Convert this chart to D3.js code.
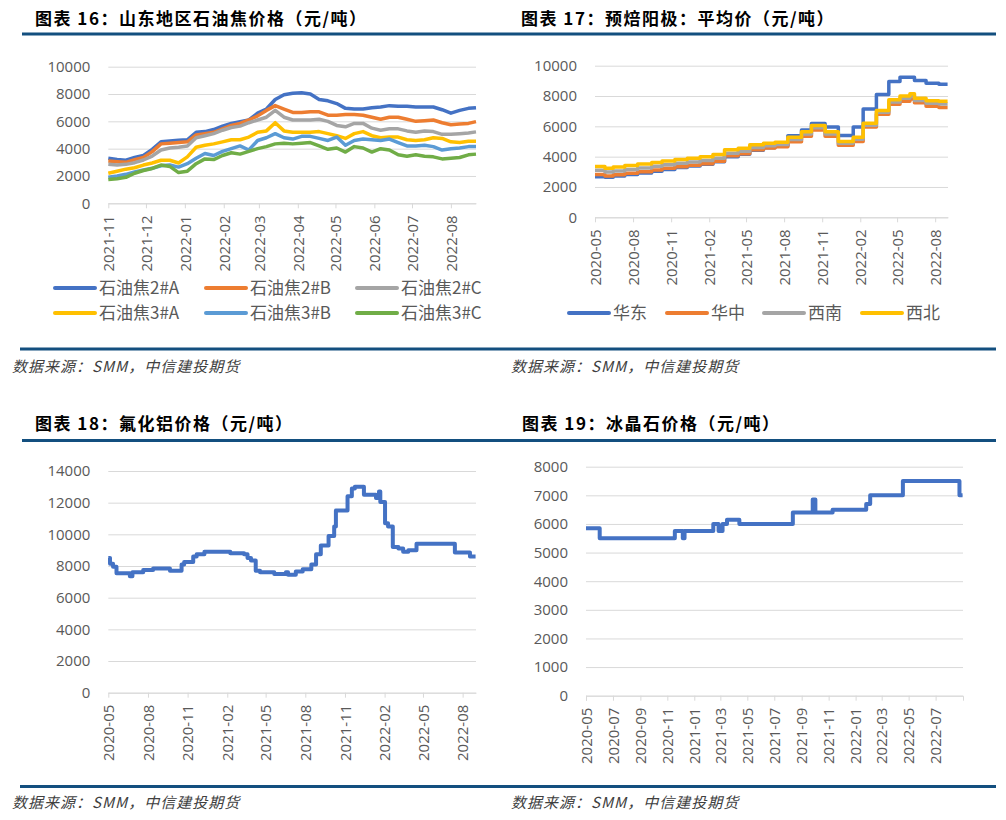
<!DOCTYPE html>
<html>
<head>
<meta charset="utf-8">
<script src="https://cdn.jsdelivr.net/npm/d3@7"></script>
<style>
body { margin: 0; background: #fff; }
.title { font-family: "Noto Sans CJK SC"; font-weight: 700; font-size: 17px; fill: #000; letter-spacing: 1.5px; }
.source { font-family: "Noto Sans CJK SC"; font-style: italic; font-size: 15px; fill: #404040; letter-spacing: 1px; }
.axis text { font-family: "Open Sans", sans-serif; font-size: 15px; fill: #595959; }
.legend text { font-family: "Noto Sans CJK SC"; font-size: 17px; fill: #595959; }
</style>
</head>
<body>
<div id="chart"></div>
<script>
// ---- 图表16 山东地区石油焦价格 ----
const cokeDates = ["2021-11-01","2021-11-08","2021-11-15","2021-11-22","2021-11-29","2021-12-06","2021-12-13","2021-12-20","2021-12-27",
  "2022-01-03","2022-01-10","2022-01-17","2022-01-24","2022-01-31","2022-02-07","2022-02-14","2022-02-21","2022-02-28",
  "2022-03-07","2022-03-14","2022-03-21","2022-03-28","2022-04-04","2022-04-11","2022-04-18","2022-04-25",
  "2022-05-02","2022-05-09","2022-05-16","2022-05-23","2022-05-30","2022-06-06","2022-06-13","2022-06-20","2022-06-27",
  "2022-07-04","2022-07-11","2022-07-18","2022-07-25","2022-08-01","2022-08-08","2022-08-15","2022-08-21"]
const coke2A = [3300,3200,3150,3350,3500,3950,4500,4560,4610,4650,5200,5250,5400,5650,5850,5970,6100,6600,6900,7600,7950,8050,
  8100,8000,7600,7500,7300,6950,6900,6900,7000,7050,7150,7100,7100,7050,7050,7050,6850,6600,6800,6950,7000]
const coke2B = [3100,3050,3000,3200,3350,3780,4350,4400,4450,4500,5000,5100,5200,5450,5700,5850,6100,6400,6800,7150,6900,6650,
  6650,6700,6700,6450,6450,6500,6500,6450,6300,6150,6300,6300,6150,6000,6050,6100,5900,5750,5800,5850,5980]
const coke2C = [2850,2800,2850,2975,3170,3460,3900,4050,4100,4190,4800,4950,5100,5350,5550,5650,5900,6100,6300,6800,6300,6100,
  6100,6100,6150,6000,5700,5600,5850,5850,5500,5350,5450,5450,5300,5200,5300,5250,5050,5050,5100,5150,5230]
const coke3A = [2200,2350,2500,2600,2800,2950,3150,3150,2950,3400,4100,4250,4350,4500,4650,4650,4850,5200,5300,5900,5300,5200,
  5200,5200,5250,5100,4950,4750,5100,5250,4950,4800,4850,4850,4650,4600,4650,4800,4750,4500,4450,4550,4550]
const coke3B = [1900,2000,2120,2290,2440,2560,2750,2800,2650,2900,3300,3650,3500,3800,4000,4200,3900,4600,4800,5100,4800,4700,
  4900,4900,4750,4600,4850,4250,4600,4700,4650,4600,4700,4450,4200,4200,4250,4150,3900,4000,4050,4150,4150]
const coke3C = [1750,1800,1900,2200,2400,2550,2800,2700,2250,2350,2900,3250,3200,3500,3700,3600,3800,4000,4150,4350,4400,4350,
  4400,4450,4200,3950,4050,3750,4150,4050,3750,4000,3900,3550,3450,3550,3450,3400,3250,3300,3350,3550,3600]
const cokeNames = ["石油焦2#A","石油焦2#B","石油焦2#C","石油焦3#A","石油焦3#B","石油焦3#C"]
const cokeXTicks = ["2021-11","2021-12","2022-01","2022-02","2022-03","2022-04","2022-05","2022-06","2022-07","2022-08"]
const cokeYTicks = [0,2000,4000,6000,8000,10000]

// ---- 图表17 预焙阳极 平均价 ----
const anodeDates = ["2020-05-01","2020-05-25","2020-06-14","2020-07-12","2020-08-12","2020-09-15","2020-10-10","2020-11-10",
  "2020-12-10","2021-01-10","2021-02-10","2021-03-10","2021-04-12","2021-05-10","2021-06-12","2021-07-10","2021-08-10",
  "2021-09-12","2021-10-06","2021-11-08","2021-12-10","2022-01-15","2022-02-08","2022-03-12","2022-04-11","2022-05-08",
  "2022-06-01","2022-06-12","2022-07-10","2022-08-10","2022-08-31"]
const anodeEast = [2680,2650,2720,2820,2920,3040,3160,3280,3380,3500,3660,4000,4160,4430,4580,4720,5380,5760,6180,5950,5400,
  5950,7150,8100,8950,9230,9230,9020,8840,8770,8770]
const anodeCentral = [2830,2730,2800,2900,3000,3120,3230,3340,3440,3540,3700,4060,4200,4450,4570,4650,4980,5350,5760,5350,4750,
  5000,5950,6800,7450,7650,7800,7550,7330,7250,7250]
const anodeSouthwest = [3100,2980,3060,3160,3260,3360,3460,3560,3640,3750,3900,4220,4360,4600,4720,4800,5130,5500,5900,5500,4880,
  5150,6080,6930,7600,7850,8000,7700,7520,7480,7480]
const anodeNorthwest = [3350,3230,3320,3420,3520,3620,3720,3820,3900,4000,4150,4450,4560,4780,4880,4950,5280,5650,6050,5650,5000,
  5280,6200,7050,7750,8000,8150,7850,7680,7650,7650]
const anodeNames = ["华东","华中","西南","西北"]
const anodeXTicks = ["2020-05","2020-08","2020-11","2021-02","2021-05","2021-08","2021-11","2022-02","2022-05","2022-08"]
const anodeYTicks = [0,2000,4000,6000,8000,10000]

// ---- 图表18 氟化铝价格 ----
const alfDates = ["2020-05-01","2020-05-05","2020-05-12","2020-05-20","2020-06-20","2020-06-26","2020-07-21","2020-08-13",
  "2020-09-21","2020-10-18","2020-10-24","2020-11-14","2020-11-22","2020-12-10","2021-02-08","2021-03-12","2021-03-20",
  "2021-03-28","2021-04-08","2021-04-18","2021-05-21","2021-06-17","2021-06-22","2021-07-10","2021-07-26","2021-08-15",
  "2021-08-26","2021-09-06","2021-09-24","2021-10-07","2021-10-11","2021-11-07","2021-11-17","2021-11-24","2021-12-15",
  "2022-01-12","2022-01-19","2022-01-22","2022-02-02","2022-02-09","2022-02-20","2022-03-05","2022-03-16","2022-03-28",
  "2022-04-16","2022-07-14","2022-08-18","2022-08-31"]
const alfPrice = [8500,8150,7950,7550,7350,7600,7750,7850,7700,8100,8250,8600,8750,8900,8800,8750,8500,8350,7700,7600,7500,
  7600,7450,7650,7800,8100,8750,9300,9900,10500,11500,12400,12900,13000,12500,12300,12700,12050,10700,10500,9200,9100,
  8900,9000,9400,8850,8600,8600]
const alfXTicks = ["2020-05","2020-08","2020-11","2021-02","2021-05","2021-08","2021-11","2022-02","2022-05","2022-08"]
const alfYTicks = [0,2000,4000,6000,8000,10000,12000,14000]

// ---- 图表19 冰晶石价格 ----
const cryoDates = ["2020-05-01","2020-06-01","2020-11-18","2020-12-06","2020-12-10","2021-02-13","2021-02-25","2021-03-06",
  "2021-03-16","2021-04-13","2021-08-12","2021-09-26","2021-10-02","2021-11-10","2022-01-25","2022-02-03","2022-04-18",
  "2022-08-24","2022-08-31"]
const cryoPrice = [5850,5500,5750,5500,5750,6000,5750,6000,6150,6000,6400,6850,6400,6500,6700,7000,7500,7000,7000]
const cryoXTicks = ["2020-05","2020-07","2020-09","2020-11","2021-01","2021-03","2021-05","2021-07","2021-09","2021-11",
  "2022-01","2022-03","2022-05","2022-07"]
const cryoYTicks = [0,1000,2000,3000,4000,5000,6000,7000,8000]

const colors6 = ["#4472C4","#ED7D31","#A5A5A5","#FFC000","#5B9BD5","#70AD47"]
const colors4 = ["#4472C4","#ED7D31","#A5A5A5","#FFC000"]

const parseDate = d3.timeParse("%Y-%m-%d")
const parseMonth = d3.timeParse("%Y-%m")
const fmtMonth = d3.timeFormat("%Y-%m")

const width = 1006
const height = 820

const svg = d3.select("#chart")
    .append("svg")
    .attr("width", width)
    .attr("height", height)

// titles, rules and sources
const titles = [
  {text: "图表 16：山东地区石油焦价格（元/吨）", x: 35, y: 25},
  {text: "图表 17：预焙阳极：平均价（元/吨）", x: 521, y: 25},
  {text: "图表 18：氟化铝价格（元/吨）", x: 35, y: 430},
  {text: "图表 19：冰晶石价格（元/吨）", x: 522, y: 430}
]
titles.forEach(t => svg.append("text").attr("class", "title").attr("x", t.x).attr("y", t.y).text(t.text))

;[[22, 34], [20, 349], [22, 440.5], [20, 786.5]].forEach(r => {
  svg.append("line").attr("x1", r[0]).attr("x2", 996).attr("y1", r[1]).attr("y2", r[1])
     .attr("stroke", "#134f7f").attr("stroke-width", 3)
})

;[[12, 372], [511, 372], [12, 808], [511, 808]].forEach(s => {
  svg.append("text").attr("class", "source").attr("x", s[0]).attr("y", s[1]).text("数据来源：SMM，中信建投期货")
})

function drawPanel(p) {
  const dates = p.dates.map(parseDate)
  const x = d3.scaleTime().domain(p.xDomain.map(parseDate)).range([p.left, p.right])
  const y = d3.scaleLinear().domain([0, p.yMax]).range([p.bottom, p.top])

  const yAxisGroup = svg.append("g")
      .attr("class", "axis")
      .attr("transform", `translate(${p.left}, 0)`)
  yAxisGroup.call(d3.axisLeft(y).tickValues(p.yTicks).tickSize(-(p.right - p.left)).tickPadding(18).tickFormat(d3.format("d")))
  yAxisGroup.select(".domain").remove()
  yAxisGroup.selectAll(".tick line").attr("stroke", "#d9d9d9")

  const xAxisGroup = svg.append("g")
      .attr("class", "axis")
      .attr("transform", `translate(0, ${p.bottom})`)
  xAxisGroup.call(d3.axisBottom(x).tickValues(p.xTicks.map(parseMonth)).tickSize(5).tickSizeOuter(p.outer).tickFormat(fmtMonth))
  xAxisGroup.select(".domain").attr("stroke", "#d9d9d9")
  xAxisGroup.selectAll(".tick line").attr("stroke", "#d9d9d9")
  xAxisGroup.selectAll("text")
      .attr("transform", "rotate(-90)")
      .attr("text-anchor", "end")
      .attr("x", -12)
      .attr("y", 0)
      .attr("dy", "0.35em")

  const line = d3.line()
      .curve(p.curve)
      .x((d, i) => x(dates[i]))
      .y(d => y(d))

  p.series.forEach((s, k) => {
    svg.append("path")
        .datum(s)
        .attr("fill", "none")
        .attr("stroke", p.colors[k])
        .attr("stroke-width", p.lineWidth)
        .attr("stroke-linejoin", "round")
        .attr("d", line)
  })
}

function drawLegend(names, colors, cols, rows) {
  const g = svg.append("g").attr("class", "legend")
  names.forEach((n, i) => {
    const lx = cols[i % cols.length]
    const ly = rows[Math.floor(i / cols.length)]
    g.append("line").attr("x1", lx).attr("x2", lx + 40).attr("y1", ly).attr("y2", ly)
        .attr("stroke", colors[i]).attr("stroke-width", 4).attr("stroke-linecap", "round")
    g.append("text").attr("x", lx + 44).attr("y", ly).attr("dy", "0.35em").text(n)
  })
}

drawPanel({
  dates: cokeDates, series: [coke2A, coke2B, coke2C, coke3A, coke3B, coke3C], colors: colors6,
  xDomain: ["2021-11-01", "2022-08-21"], xTicks: cokeXTicks, yTicks: cokeYTicks, yMax: 10000,
  left: 108.3, right: 476, top: 66.7, bottom: 203.3, curve: d3.curveLinear, outer: 0, lineWidth: 3.5
})
drawLegend(cokeNames, colors6, [55, 206, 357], [288, 313])

drawPanel({
  dates: anodeDates, series: [anodeEast, anodeCentral, anodeSouthwest, anodeNorthwest], colors: colors4,
  xDomain: ["2020-05-01", "2022-09-01"], xTicks: anodeXTicks, yTicks: anodeYTicks, yMax: 10000,
  left: 595, right: 948, top: 65.7, bottom: 217.3, curve: d3.curveStepAfter, outer: 0, lineWidth: 3.5
})
drawLegend(anodeNames, colors4, [569, 667, 764, 862], [313])

drawPanel({
  dates: alfDates, series: [alfPrice], colors: ["#4472C4"],
  xDomain: ["2020-05-01", "2022-09-01"], xTicks: alfXTicks, yTicks: alfYTicks, yMax: 14000,
  left: 108.3, right: 476, top: 471, bottom: 692.7, curve: d3.curveStepAfter, outer: 0, lineWidth: 4
})

drawPanel({
  dates: cryoDates, series: [cryoPrice], colors: ["#4472C4"],
  xDomain: ["2020-05-01", "2022-09-01"], xTicks: cryoXTicks, yTicks: cryoYTicks, yMax: 8000,
  left: 586, right: 963, top: 466.7, bottom: 695.7, curve: d3.curveStepAfter, outer: 5, lineWidth: 4
})
</script>
</body>
</html>
